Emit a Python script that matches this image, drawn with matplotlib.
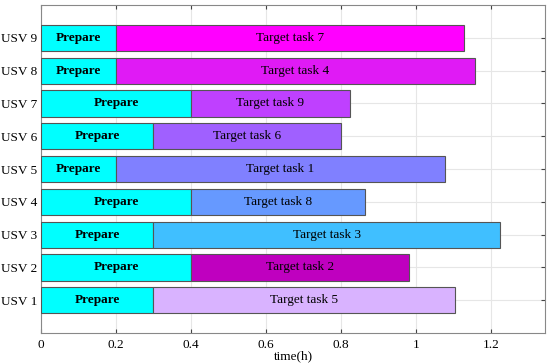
import matplotlib.pyplot as plt
import matplotlib.ticker as ticker

usvs = ['USV 1', 'USV 2', 'USV 3', 'USV 4', 'USV 5', 'USV 6', 'USV 7', 'USV 8', 'USV 9']
prepare = [0.3, 0.4, 0.3, 0.4, 0.2, 0.3, 0.4, 0.2, 0.2]
finish = [1.104, 0.98, 1.223, 0.864, 1.077, 0.80, 0.823, 1.157, 1.128]
tasks = ['Target task 5', 'Target task 2', 'Target task 3', 'Target task 8', 'Target task 1',
         'Target task 6', 'Target task 9', 'Target task 4', 'Target task 7']
colors = ['#D9B3FF', '#BF00BF', '#40BFFF', '#6699FF', '#8080FF',
          '#A060FF', '#BF40FF', '#E01AF5', '#FF00FF']

plt.rcParams['font.family'] = ['Liberation Serif']
fs = 9.5

fig = plt.figure(figsize=(5.5, 3.64), dpi=100)
ax = fig.add_axes([0.0745, 0.085, 0.9165, 0.901])

ypos = list(range(1, len(usvs) + 1))
for i in range(len(usvs)):
    y = ypos[i]
    ax.barh(y, prepare[i], left=0, height=0.8, color='#00FFFF',
            edgecolor='#555555', linewidth=0.8, zorder=3)
    ax.barh(y, finish[i] - prepare[i], left=prepare[i], height=0.8, color=colors[i],
            edgecolor='#555555', linewidth=0.8, zorder=3)
    ax.text(prepare[i] / 2, y, 'Prepare', ha='center', va='center',
            fontsize=fs, fontweight='bold', zorder=4)
    ax.text((prepare[i] + finish[i]) / 2, y, tasks[i], ha='center', va='center',
            fontsize=fs, zorder=4)

ax.set_xlim(0, 1.344)
ax.set_ylim(0, 10)
ax.set_yticks(ypos)
ax.set_yticklabels(usvs)
ax.set_xticks([0, 0.2, 0.4, 0.6, 0.8, 1.0, 1.2])
ax.xaxis.set_major_formatter(ticker.FuncFormatter(lambda v, p: '%g' % round(v, 2)))
ax.tick_params(direction='in', top=True, right=True, labelsize=fs, length=3,
               color='#444444', pad=4)
ax.tick_params(axis='y', pad=2.5)
ax.grid(True, color='#e6e6e6', linewidth=0.8, zorder=0)
for s in ax.spines.values():
    s.set_color('#888888')
    s.set_linewidth(0.8)
ax.set_xlabel('time(h)', fontsize=fs, labelpad=0)

plt.savefig('out.png', dpi=100)
